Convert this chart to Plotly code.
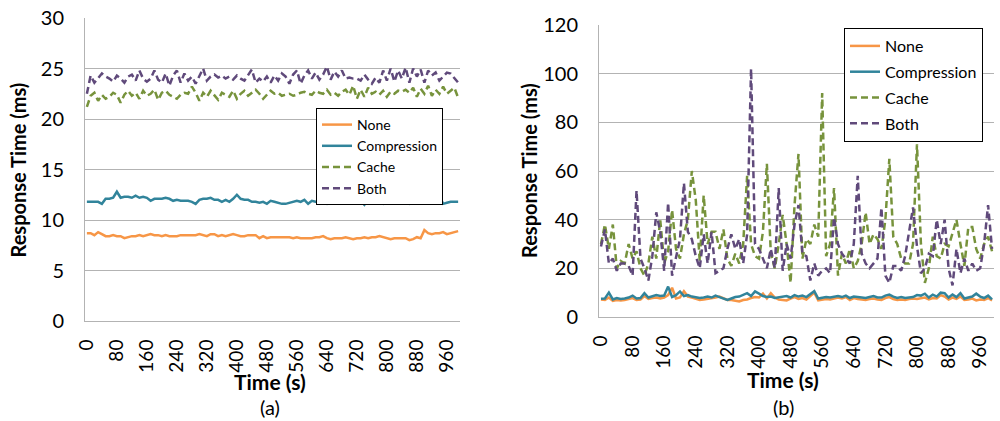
import plotly.graph_objects as go

# ---------------- data ----------------
time_s = list(range(0, 1000, 10))  # 100 samples, 10 s apart
x_ticks = list(range(0, 961, 80))

# Panel (a)
a_none = [8.7,8.7,8.5,8.8,8.6,8.4,8.4,8.5,8.4,8.4,8.2,8.3,8.4,8.4,8.5,8.4,8.5,8.6,8.5,8.5,
          8.4,8.5,8.4,8.4,8.4,8.5,8.5,8.5,8.5,8.5,8.6,8.5,8.4,8.6,8.6,8.4,8.5,8.4,8.5,8.6,
          8.5,8.4,8.4,8.5,8.5,8.5,8.2,8.4,8.2,8.3,8.3,8.3,8.3,8.3,8.3,8.2,8.3,8.2,8.2,8.2,
          8.2,8.3,8.3,8.4,8.2,8.1,8.2,8.2,8.2,8.3,8.2,8.1,8.2,8.2,8.3,8.2,8.3,8.3,8.4,8.3,
          8.2,8.1,8.2,8.2,8.2,8.2,8.0,8.1,8.3,8.2,9.0,8.7,8.6,8.7,8.7,8.8,8.6,8.7,8.8,8.9]
a_comp = [11.8,11.8,11.8,11.8,11.6,12.1,12.1,12.2,12.8,12.2,12.3,12.3,12.2,12.4,12.2,12.3,12.2,11.9,12.1,12.1,
          12.1,12.2,12.1,11.9,12.0,11.9,11.9,11.9,11.8,11.6,12.0,12.1,12.1,12.2,12.0,12.0,11.8,12.0,11.8,12.1,
          12.5,12.1,12.0,12.0,11.8,11.8,11.7,11.8,11.6,11.9,11.8,11.7,11.6,11.6,11.7,11.8,11.9,11.8,12.0,11.6,
          11.9,11.8,11.8,11.7,11.6,11.9,11.7,11.8,12.0,12.0,11.9,11.8,11.7,11.9,11.5,12.0,11.8,11.8,11.7,11.6,
          11.9,11.8,11.8,11.7,11.8,11.9,11.6,11.8,11.9,11.7,11.8,11.9,11.8,11.8,12.4,11.6,11.7,11.8,11.8,11.8]
a_cache = [21.2,22.3,22.6,21.8,22.4,22.0,22.2,22.6,22.4,21.6,22.4,22.8,22.3,22.6,22.0,22.8,22.3,22.5,22.9,21.9,
           22.6,22.8,22.4,22.2,22.0,22.4,22.6,22.5,23.2,22.6,21.8,22.6,22.2,22.8,22.4,21.9,22.6,22.4,22.2,22.8,
           22.0,22.5,22.8,22.3,22.6,22.9,22.5,22.0,22.4,22.8,22.5,22.6,22.3,22.4,22.5,22.3,22.4,22.6,22.7,22.5,
           22.4,22.8,22.6,22.5,22.9,22.4,22.6,22.3,22.7,22.9,22.4,23.3,22.0,22.9,22.2,23.1,22.5,22.7,22.4,22.8,
           22.2,22.7,22.5,22.8,22.7,22.9,22.6,23.1,22.2,23.0,22.5,23.3,22.3,22.9,22.5,23.2,22.5,22.8,23.1,22.1]
a_both = [22.5,24.3,23.6,24.0,24.5,24.2,24.0,23.7,24.3,24.0,23.6,24.2,24.4,23.8,24.8,24.0,23.7,24.0,24.8,23.9,
          23.6,24.5,23.3,24.3,24.8,23.6,24.5,23.8,24.2,23.5,24.3,25.0,23.8,24.2,24.4,24.1,24.3,24.0,24.2,23.9,
          24.3,24.0,23.8,24.4,24.9,23.6,24.0,23.7,24.2,23.6,24.3,23.8,24.5,24.2,23.5,24.4,24.8,23.5,24.3,24.8,
          24.0,24.6,23.9,24.4,25.2,23.9,24.7,24.2,24.8,24.0,24.1,24.0,24.0,23.8,24.4,23.9,23.5,24.1,23.6,24.8,
          23.8,25.0,23.7,24.8,24.0,25.1,23.6,25.0,24.2,24.9,23.6,24.8,24.3,24.6,23.8,24.2,24.6,24.5,24.0,23.6]

# Panel (b)
b_none = [7.2,7.0,8.0,6.6,7.0,6.8,7.0,7.4,7.8,7.0,7.2,8.6,7.4,7.8,8.0,7.6,8.0,9.0,12.0,7.6,
          8.0,10.6,8.4,8.0,7.6,7.0,7.2,7.4,7.6,8.0,8.4,7.6,7.0,7.0,6.6,6.4,7.0,7.2,7.8,8.2,
          8.0,9.6,7.6,9.8,8.0,7.2,7.0,6.8,7.6,8.2,7.4,7.8,7.2,8.6,10.0,6.8,7.0,7.4,7.2,7.6,
          8.0,7.6,8.2,7.0,7.8,7.4,7.2,7.0,7.4,7.6,7.2,7.0,7.8,8.2,7.4,7.0,7.2,7.0,7.4,7.6,
          7.4,7.8,8.0,7.2,7.8,7.6,9.0,8.4,7.2,8.0,7.4,8.4,7.0,7.2,7.6,6.8,7.2,7.0,7.8,6.8]
b_comp = [7.5,7.6,10.0,7.2,7.8,7.4,7.6,8.0,8.8,7.6,7.8,9.8,8.0,8.6,9.0,8.6,8.8,12.5,8.2,9.0,
          10.5,8.6,9.0,8.4,8.0,7.8,8.0,8.4,8.0,8.8,8.2,7.6,7.0,7.6,8.2,8.4,9.0,9.8,8.6,10.5,
          9.6,8.6,8.2,8.4,7.8,8.0,8.4,8.6,8.0,9.0,8.4,8.8,8.2,9.4,10.6,7.6,8.0,8.2,8.0,8.4,
          8.6,8.2,8.8,7.8,8.4,8.2,8.0,7.8,8.2,8.6,8.0,8.0,8.8,9.2,8.4,7.8,8.2,7.8,8.0,8.2,
          9.0,8.8,9.6,8.0,9.2,8.4,10.0,9.8,8.0,9.2,8.2,9.8,7.6,8.0,8.4,9.6,8.4,7.8,8.8,7.2]
b_cache = [30,38,28,38,20,23,22,30,24,27,20,17,22,33,24,40,22,27,44,28,
           24,34,40,60,48,23,50,30,35,35,28,36,24,21,26,22,30,58,30,25,
           24,35,63,26,20,30,42,30,14,46,67,24,32,30,38,33,92,25,30,53,
           17,26,22,28,20,23,30,43,30,34,32,28,40,65,33,30,24,22,22,30,
           71,30,14,20,33,25,24,30,29,35,40,30,21,37,37,28,24,30,33,27]
b_both = [29,36,22,24,19,22,22,21,17,52,24,20,15,25,43,35,19,47,17,25,
          32,55,35,32,25,20,34,22,35,18,19,20,28,34,28,32,22,34,102,30,
          28,24,20,28,20,53,19,30,24,38,46,26,25,15,22,17,19,20,18,41,
          30,26,24,22,30,58,26,22,20,22,24,45,17,14,21,21,19,25,36,45,
          29,18,20,26,25,40,30,40,20,13,28,18,24,19,22,19,20,30,46,28]

# ---------------- styling ----------------
FONT = "Lato"
C_NONE, C_COMP, C_CACHE, C_BOTH = "#F79646", "#31849B", "#77933C", "#604A7B"
GRID = "#b3b3b3"
DASH = "7px,4px"

series = [
    ("None", C_NONE, "solid"),
    ("Compression", C_COMP, "solid"),
    ("Cache", C_CACHE, DASH),
    ("Both", C_BOTH, DASH),
]
panel_a = [a_none, a_comp, a_cache, a_both]
panel_b = [b_none, b_comp, b_cache, b_both]

fig = go.Figure()
for (name, col, dash), ys in zip(series, panel_a):
    fig.add_trace(go.Scatter(x=time_s, y=ys, name=name, mode="lines",
                             line=dict(color=col, width=2.5, dash=dash),
                             xaxis="x", yaxis="y", legend="legend"))
for k, ((name, col, dash), ys) in enumerate(zip(series, panel_b)):
    fig.add_trace(go.Scatter(x=time_s, y=ys, name=name, mode="lines",
                             line=dict(color=col, width=2.5, dash=dash),
                             xaxis="x2", yaxis="y2", legend="legend2",
                             legendgroup="g%d" % k))

# full window: 1000 x 421 (page body margin removed below)
W, H = 1000, 421
def px_x(p): return p / W
def px_y(p): return 1 - p / H

xcommon = dict(range=[-5, 995], tickvals=x_ticks, ticktext=[str(v) for v in x_ticks],
               tickangle=-90, showgrid=False, zeroline=False, showline=True,
               linecolor=GRID, linewidth=1, ticks="", ticklabelstandoff=10,
               tickfont=dict(family=FONT, size=19, color="#000"))
ycommon = dict(showgrid=True, gridcolor=GRID, gridwidth=1, zeroline=False,
               showline=True, linecolor=GRID, linewidth=1, ticks="",
               ticklabelstandoff=16, ticklabeloverflow="allow",
               tickfont=dict(family=FONT, size=20, color="#000"))

fig.update_layout(
    width=W, height=H,
    margin=dict(l=0, r=0, t=0, b=0, autoexpand=False),
    paper_bgcolor="white", plot_bgcolor="white",
    xaxis=dict(domain=[px_x(85), px_x(460)], anchor="y", **xcommon),
    yaxis=dict(domain=[px_y(321), px_y(18)], anchor="x", range=[0, 30], dtick=5, **ycommon),
    xaxis2=dict(domain=[px_x(599), px_x(994)], anchor="y2", **xcommon),
    yaxis2=dict(domain=[px_y(317), px_y(25)], anchor="x2", range=[0, 120], dtick=20, **ycommon),
    legend=dict(x=px_x(316), y=px_y(108), xanchor="left", yanchor="top",
                bgcolor="white", bordercolor="#000", borderwidth=1,
                font=dict(family=FONT, size=14, color="#000"),
                itemwidth=30, tracegroupgap=0),
    legend2=dict(x=px_x(844), y=px_y(28), xanchor="left", yanchor="top",
                 bgcolor="white", bordercolor="#000", borderwidth=1,
                 font=dict(family=FONT, size=16, color="#000"),
                 itemwidth=30, traceorder="grouped", tracegroupgap=2,
                 entrywidth=175, entrywidthmode="pixels"),
    showlegend=True,
)

ann = [
    dict(text="<b>Response Time (ms)</b>", x=px_x(17.5), y=px_y(170), textangle=-90, size=20),
    dict(text="<b>Time (s)</b>", x=px_x(270), y=px_y(381), textangle=0, size=21),
    dict(text="(a)", x=px_x(270), y=px_y(407), textangle=0, size=20),
    dict(text="<b>Response Time (ms)</b>", x=px_x(529), y=px_y(171), textangle=-90, size=20),
    dict(text="<b>Time (s)</b>", x=px_x(783), y=px_y(379), textangle=0, size=21),
    dict(text="(b)", x=px_x(783), y=px_y(407), textangle=0, size=20),
]
for a in ann:
    fig.add_annotation(text=a["text"], x=a["x"], y=a["y"], xref="paper", yref="paper",
                       xanchor="center", yanchor="middle", showarrow=False,
                       textangle=a["textangle"],
                       font=dict(family=FONT, size=a["size"], color="#000"))

fig.write_html("out.html", config={"displayModeBar": False},
               post_script="document.body.style.margin='0';document.body.style.overflow='hidden';")
